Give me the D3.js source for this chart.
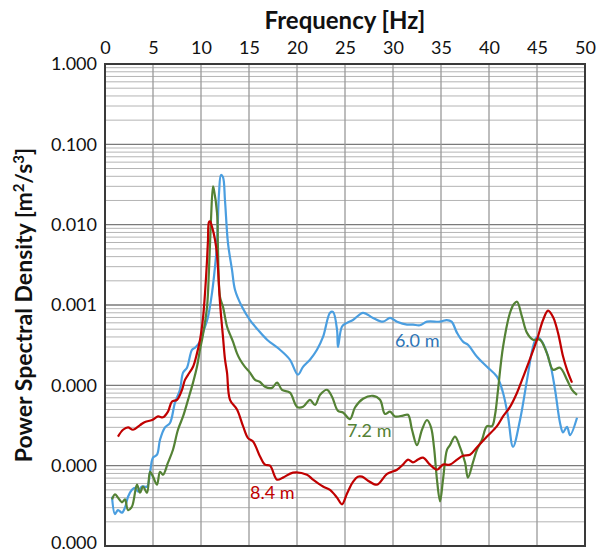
<!DOCTYPE html>
<html>
<head>
<meta charset="utf-8">
<script src="https://cdn.jsdelivr.net/npm/d3@7"></script>
<style>
  body { margin: 0; background: #fff; }
  svg text { font-family: Lato, "Open Sans", sans-serif; }
</style>
</head>
<body>
<div id="chart"></div>
<script>
// frequency [Hz] and PSD [m2/s3]
const freq60 = [0.73, 1.04, 1.35, 1.77, 2.08, 2.40, 2.81, 3.13, 3.44, 3.85, 4.38, 4.69, 5.0, 5.42, 5.73, 6.25, 6.77, 7.29, 7.81, 8.13, 8.54, 9.06, 9.38, 9.9, 10.2, 10.73, 11.15, 11.46, 11.67, 11.88, 12.08, 12.29, 12.5, 12.81, 13.23, 13.54, 14.27, 15.1, 15.94, 16.88, 18.23, 19.27, 20.1, 20.63, 21.35, 22.08, 22.71, 23.44, 23.75, 24.17, 24.27, 24.69, 25.21, 25.83, 26.88, 27.92, 28.96, 29.69, 30.42, 31.46, 32.08, 32.8, 33.54, 34.9, 35.6, 36.1, 36.67, 37.29, 37.81, 38.75, 39.79, 40.83, 41.46, 41.98, 42.5, 43.23, 43.96, 44.58, 45.0, 45.52, 46.35, 46.88, 47.4, 47.71, 48.13, 48.44, 49.17];
const psd60 = [4.1e-6, 2.5e-6, 2.8e-6, 2.6e-6, 3.0e-6, 4.1e-6, 5.0e-6, 5.3e-6, 4.75e-6, 5.5e-6, 5.5e-6, 8.2e-6, 1.26e-5, 1.37e-5, 2.1e-5, 3.0e-5, 3.4e-5, 6.1e-5, 8.8e-5, 1.44e-4, 1.66e-4, 2.77e-4, 2.94e-4, 3.5e-4, 4.5e-4, 7.1e-4, 1.42e-3, 3.0e-3, 5.9e-3, 0.025, 0.0416, 0.039, 0.020, 5.9e-3, 2.74e-3, 1.55e-3, 9.5e-4, 6.5e-4, 4.9e-4, 3.7e-4, 2.77e-4, 2.08e-4, 1.36e-4, 1.7e-4, 2.08e-4, 2.77e-4, 4.0e-4, 8.0e-4, 8.2e-4, 4.9e-4, 3.0e-4, 5.4e-4, 6.0e-4, 6.5e-4, 8.0e-4, 6.9e-4, 6.2e-4, 6.9e-4, 6.2e-4, 5.7e-4, 5.7e-4, 5.6e-4, 6.2e-4, 6.2e-4, 6.5e-4, 6.2e-4, 4.5e-4, 3.5e-4, 3.2e-4, 2.27e-4, 1.7e-4, 1.28e-4, 8.1e-5, 4.1e-5, 1.72e-5, 3.7e-5, 1.17e-4, 3.0e-4, 4.0e-4, 3.5e-4, 1.9e-4, 8.8e-5, 3.4e-5, 2.6e-5, 3.05e-5, 2.4e-5, 3.95e-5];

const freq72 = [0.73, 1.04, 1.35, 1.77, 2.08, 2.40, 2.81, 3.33, 3.65, 3.96, 4.38, 4.69, 5.0, 5.42, 5.73, 6.04, 6.56, 7.08, 7.60, 8.13, 8.65, 9.17, 9.58, 9.90, 10.21, 10.63, 10.83, 11.04, 11.25, 11.35, 11.67, 11.77, 11.98, 12.29, 12.71, 13.02, 13.33, 13.75, 14.06, 14.58, 15.10, 15.63, 16.15, 16.67, 17.40, 17.92, 18.44, 19.27, 20.0, 20.63, 21.35, 21.88, 22.4, 23.13, 23.65, 24.27, 24.79, 25.52, 26.04, 26.88, 27.92, 28.65, 29.17, 29.69, 30.21, 31.04, 31.56, 31.98, 32.5, 33.02, 33.54, 33.96, 34.27, 34.58, 34.9, 35.21, 35.63, 35.94, 36.46, 36.98, 37.5, 37.81, 38.33, 38.75, 39.27, 39.79, 40.31, 40.63, 40.94, 41.46, 42.19, 42.6, 42.92, 43.44, 43.96, 44.58, 45.31, 46.04, 46.67, 47.4, 48.13, 48.65, 49.17];
const psd72 = [3.8e-6, 4.4e-6, 4.0e-6, 3.5e-6, 3.8e-6, 2.8e-6, 3.1e-6, 5.8e-6, 4.6e-6, 5.5e-6, 4.6e-6, 8.4e-6, 7.3e-6, 5.8e-6, 8.4e-6, 7.7e-6, 1.09e-5, 1.58e-5, 2.8e-5, 4.1e-5, 6.6e-5, 1.08e-4, 1.7e-4, 2.8e-4, 4.3e-4, 9.5e-4, 2.7e-3, 0.0115, 0.030, 0.027, 0.014, 4.9e-3, 1.26e-3, 9.5e-4, 5.4e-4, 4.3e-4, 3.5e-4, 2.5e-4, 2.1e-4, 1.7e-4, 1.44e-4, 1.17e-4, 1.1e-4, 9.6e-5, 9.3e-5, 1.08e-4, 8.8e-5, 8.1e-5, 5.4e-5, 5.4e-5, 6.6e-5, 5.7e-5, 7.6e-5, 8.8e-5, 7.2e-5, 4.8e-5, 4.6e-5, 3.8e-5, 5.3e-5, 6.8e-5, 7.4e-5, 6.6e-5, 4.4e-5, 4.7e-5, 4.1e-5, 4.2e-5, 4.3e-5, 2.8e-5, 1.8e-5, 2.8e-5, 3.7e-5, 3.0e-5, 1.7e-5, 6.7e-6, 3.6e-6, 6.7e-6, 1.58e-5, 1.8e-5, 2.3e-5, 1.7e-5, 1.1e-5, 7.1e-6, 1.1e-5, 1.58e-5, 2.1e-5, 3.1e-5, 3.1e-5, 4.3e-5, 8.8e-5, 3.0e-4, 8.0e-4, 1.03e-3, 1.1e-3, 7.1e-4, 4.5e-4, 3.7e-4, 3.7e-4, 2.5e-4, 1.56e-4, 1.66e-4, 1.17e-4, 8.8e-5, 7.6e-5];

const freq84 = [1.35, 1.88, 2.40, 2.92, 3.65, 4.17, 4.90, 5.52, 6.04, 6.56, 6.98, 7.5, 8.02, 8.33, 8.65, 9.17, 9.58, 9.9, 10.21, 10.42, 10.63, 10.73, 10.83, 10.94, 11.15, 11.46, 11.67, 11.98, 12.29, 12.5, 12.71, 13.02, 13.75, 14.38, 14.9, 15.42, 16.15, 16.67, 17.19, 17.92, 18.54, 19.58, 21.04, 21.67, 22.71, 23.44, 24.17, 24.69, 25.21, 25.83, 26.35, 26.77, 27.4, 28.33, 29.38, 30.42, 31.04, 31.56, 32.08, 32.6, 33.13, 33.85, 34.58, 35.21, 35.94, 36.67, 37.29, 38.02, 38.75, 39.79, 40.83, 41.46, 42.19, 42.92, 43.44, 43.96, 45.0, 45.63, 46.15, 46.67, 47.19, 47.71, 48.13, 48.65];
const psd84 = [2.3e-5, 2.8e-5, 3.0e-5, 2.8e-5, 3.2e-5, 3.5e-5, 3.7e-5, 4.1e-5, 4.0e-5, 4.7e-5, 6.3e-5, 6.6e-5, 8.8e-5, 1.17e-4, 1.35e-4, 1.7e-4, 2.5e-4, 3.7e-4, 6.9e-4, 1.42e-3, 3.65e-3, 6.5e-3, 0.0108, 0.011, 9.4e-3, 6.5e-3, 4.2e-3, 1.06e-3, 4.0e-4, 2.1e-4, 1.44e-4, 6.6e-5, 5.0e-5, 3.1e-5, 2.2e-5, 2.0e-5, 1.3e-5, 1.03e-5, 1.0e-5, 6.7e-6, 7.1e-6, 8.2e-6, 7.7e-6, 6.7e-6, 5.5e-6, 5.0e-6, 4.0e-6, 3.3e-6, 4.5e-6, 6.3e-6, 7.3e-6, 7.3e-6, 6.5e-6, 5.8e-6, 7.9e-6, 8.9e-6, 1.03e-5, 1.19e-5, 1.1e-5, 1.19e-5, 1.26e-5, 1.03e-5, 8.9e-6, 1.03e-5, 1.03e-5, 1.19e-5, 1.33e-5, 1.37e-5, 1.7e-5, 2.3e-5, 3.1e-5, 4.1e-5, 5.4e-5, 8.1e-5, 1.17e-4, 1.7e-4, 3.7e-4, 6.5e-4, 8.5e-4, 7.1e-4, 4.5e-4, 2.3e-4, 1.56e-4, 1.08e-4];

const seriesNames = ["6.0 m", "7.2 m", "8.4 m"];
const seriesColors = ["#4a9ee0", "#548235", "#c00000"];
const labelColors = ["#2e75b6", "#548235", "#c00000"];
// where each series name sits (f, psd at text baseline)
const labelF = [30.2, 25.2, 15.1];
const labelPsd = [3.0e-4, 2.3e-5, 3.9e-6];

const xTicks = [0, 5, 10, 15, 20, 25, 30, 35, 40, 45, 50];
const yTicks = [1, 0.1, 0.01, 0.001, 0.0001, 0.00001, 0.000001];

const W = 597, H = 553;
const margin = { top: 64, right: 12, bottom: 7, left: 105 };

const svg = d3.select("#chart").append("svg")
    .attr("width", W)
    .attr("height", H);

const x = d3.scaleLinear().domain([0, 50]).range([margin.left, W - margin.right]);
const y = d3.scaleLog().domain([1e-6, 1]).range([H - margin.bottom, margin.top]);

// minor log grid lines (2..9 in each decade)
const minor = [];
yTicks.slice(0, -1).forEach(d => {
    for (let k = 2; k <= 9; k++) minor.push(d * k / 10);
});

const grid = svg.append("g");
grid.selectAll(".minor").data(minor).enter().append("line")
    .attr("x1", x(0)).attr("x2", x(50))
    .attr("y1", d => y(d)).attr("y2", d => y(d))
    .attr("stroke", "#b4b4b4").attr("stroke-width", 1);

grid.selectAll(".major").data(yTicks).enter().append("line")
    .attr("x1", x(0)).attr("x2", x(50))
    .attr("y1", d => y(d)).attr("y2", d => y(d))
    .attr("stroke", "#7a7a7a").attr("stroke-width", 1.3);

grid.selectAll(".vert").data(xTicks).enter().append("line")
    .attr("x1", d => x(d)).attr("x2", d => x(d))
    .attr("y1", y(1)).attr("y2", y(1e-6))
    .attr("stroke", "#9a9a9a").attr("stroke-width", 1.3);

// frame
svg.append("rect")
    .attr("x", x(0)).attr("y", y(1))
    .attr("width", x(50) - x(0)).attr("height", y(1e-6) - y(1))
    .attr("fill", "none").attr("stroke", "#3a3a3a").attr("stroke-width", 2);

// axes (labels only)
const xAxis = d3.axisTop(x).tickValues(xTicks).tickSize(0).tickPadding(10);
svg.append("g")
    .attr("transform", `translate(0,${y(1)})`)
    .call(xAxis)
    .call(g => g.select(".domain").remove())
    .selectAll("text")
    .attr("font-size", 18).attr("fill", "#111")
    .style("font-family", "Lato, sans-serif");

const yAxis = d3.axisLeft(y).tickValues(yTicks).tickSize(0).tickPadding(8)
    .tickFormat(d3.format(".3f"));
svg.append("g")
    .attr("transform", `translate(${x(0)},0)`)
    .call(yAxis)
    .call(g => g.select(".domain").remove())
    .selectAll("text")
    .attr("font-size", 18).attr("fill", "#111")
    .style("font-family", "Lato, sans-serif")
    .attr("dy", d => d === 1e-6 ? "0.12em" : "0.32em");

// titles
svg.append("text")
    .attr("x", (x(0) + x(50)) / 2).attr("y", 29)
    .attr("text-anchor", "middle")
    .attr("font-size", 24).attr("font-weight", "bold").attr("fill", "#111")
    .text("Frequency [Hz]");

const yt = svg.append("text")
    .attr("transform", `translate(32,${(y(1) + y(1e-6)) / 2}) rotate(-90)`)
    .attr("text-anchor", "middle")
    .attr("font-size", 23).attr("font-weight", "bold").attr("fill", "#111");
yt.append("tspan").text("Power Spectral Density [m");
yt.append("tspan").attr("dy", -8).attr("font-size", 15).text("2");
yt.append("tspan").attr("dy", 8).text("/s");
yt.append("tspan").attr("dy", -8).attr("font-size", 15).text("3");
yt.append("tspan").attr("dy", 8).text("]");

// series
const allF = [freq60, freq72, freq84];
const allP = [psd60, psd72, psd84];

const line = d3.line()
    .x(d => x(d[0]))
    .y(d => y(d[1]))
    .curve(d3.curveCatmullRom.alpha(0.5));

const plot = svg.append("g");
allF.forEach((fs, i) => {
    const pts = fs.map((f, j) => [f, allP[i][j]]);
    plot.append("path")
        .datum(pts)
        .attr("d", line)
        .attr("fill", "none")
        .attr("stroke", seriesColors[i])
        .attr("stroke-width", 2.2)
        .attr("stroke-linejoin", "round");
});

svg.selectAll(".lbl").data(seriesNames).enter().append("text")
    .attr("x", (d, i) => x(labelF[i]))
    .attr("y", (d, i) => y(labelPsd[i]))
    .attr("font-size", 18)
    .attr("fill", (d, i) => labelColors[i])
    .text(d => d);
</script>
</body>
</html>
